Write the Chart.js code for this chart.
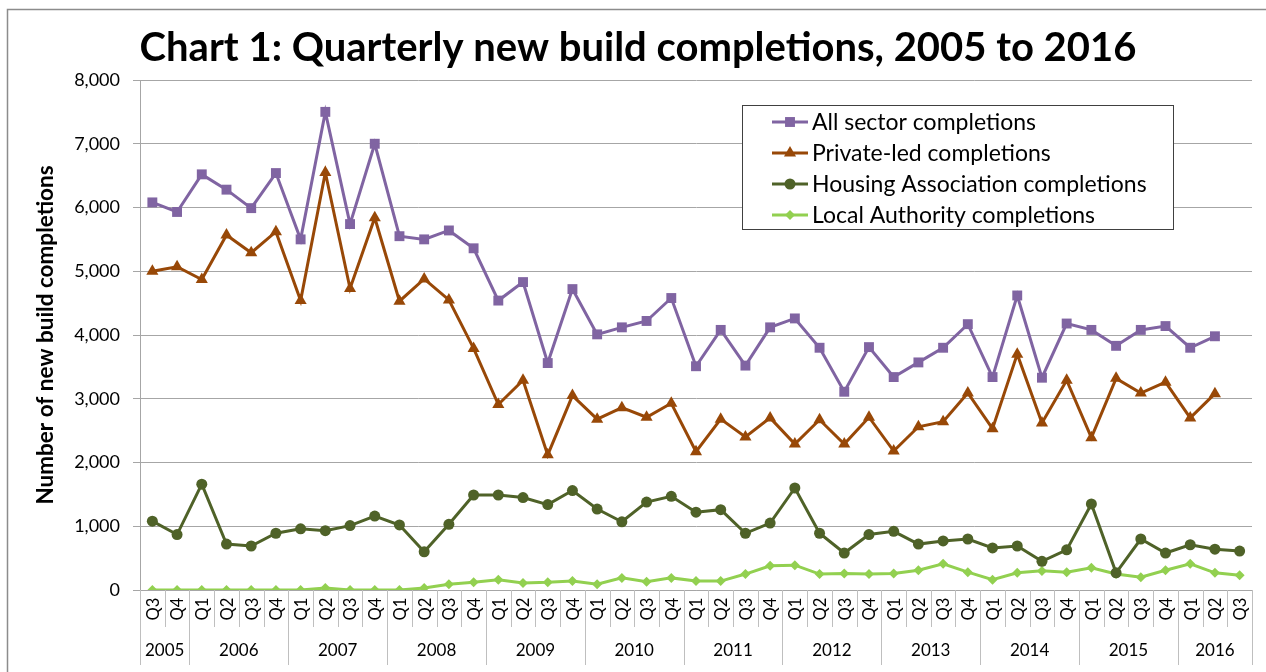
<!DOCTYPE html>
<html>
<head>
<meta charset="utf-8">
<script src="https://cdn.jsdelivr.net/npm/chart.js@4.4.1/dist/chart.umd.min.js"></script>
<style>
  html, body { margin: 0; padding: 0; background: #fff; }
  canvas { display: block; }
</style>
</head>
<body>
<canvas id="housingChart" width="1266" height="672"></canvas>
<script>
// --------------------------------
// Chart data
// --------------------------------
const quarterLabels = [
    'Q3', 'Q4',
    'Q1', 'Q2', 'Q3', 'Q4',
    'Q1', 'Q2', 'Q3', 'Q4',
    'Q1', 'Q2', 'Q3', 'Q4',
    'Q1', 'Q2', 'Q3', 'Q4',
    'Q1', 'Q2', 'Q3', 'Q4',
    'Q1', 'Q2', 'Q3', 'Q4',
    'Q1', 'Q2', 'Q3', 'Q4',
    'Q1', 'Q2', 'Q3', 'Q4',
    'Q1', 'Q2', 'Q3', 'Q4',
    'Q1', 'Q2', 'Q3', 'Q4',
    'Q1', 'Q2', 'Q3'
];
const yearLabels = ['2005', '2006', '2007', '2008', '2009', '2010', '2011', '2012', '2013', '2014', '2015', '2016'];
const quartersInYear = [2, 4, 4, 4, 4, 4, 4, 4, 4, 4, 4, 3];

const allSector = [
    6080, 5930,
    6520, 6280, 5990, 6540,
    5500, 7500, 5740, 7000,
    5550, 5500, 5640, 5360,
    4540, 4830, 3560, 4720,
    4010, 4120, 4220, 4580,
    3510, 4080, 3520, 4120,
    4260, 3800, 3110, 3810,
    3340, 3570, 3800, 4170,
    3340, 4620, 3330, 4180,
    4080, 3830, 4080, 4140,
    3800, 3980, null
];
const privateLed = [
    5000, 5070,
    4870, 5570, 5290, 5620,
    4540, 6550, 4730, 5840,
    4530, 4880, 4550, 3790,
    2910, 3290, 2120, 3050,
    2680, 2860, 2710, 2930,
    2170, 2680, 2400, 2700,
    2290, 2670, 2290, 2710,
    2180, 2560, 2640, 3090,
    2530, 3700, 2620, 3290,
    2390, 3320, 3090, 3260,
    2700, 3080, null
];
const housingAssociation = [
    1080, 870,
    1660, 720, 690, 890,
    960, 930, 1010, 1160,
    1020, 600, 1030, 1490,
    1490, 1450, 1340, 1560,
    1270, 1070, 1380, 1470,
    1220, 1260, 890, 1050,
    1600, 890, 580, 870,
    920, 720, 770, 800,
    660, 690, 450, 630,
    1350, 270, 800, 580,
    710, 640, 610
];
const localAuthority = [
    0, 0,
    0, 0, 0, 0,
    0, 30, 0, 0,
    0, 30, 90, 120,
    160, 110, 120, 140,
    90, 190, 130, 190,
    140, 140, 250, 380,
    390, 250, 260, 250,
    260, 310, 410, 280,
    160, 270, 300, 280,
    350, 250, 200, 310,
    410, 270, 230
];

const titleText = 'Chart 1: Quarterly new build completions, 2005 to 2016';
const yAxisTitle = 'Number of new build completions';

const FONT = 'Lato, "Open Sans", sans-serif';

// --------------------------------
// Marker drawing used by the legend (same geometry as Chart.js points)
// --------------------------------
function drawMarker(ctx, style, x, y, r, color) {
    ctx.fillStyle = color;
    ctx.beginPath();
    if (style === 'rect') {
        const s = r * Math.SQRT1_2;
        ctx.rect(x - s, y - s, s * 2, s * 2);
    } else if (style === 'triangle') {
        ctx.moveTo(x, y - r);
        ctx.lineTo(x + r * 0.866, y + r * 0.5);
        ctx.lineTo(x - r * 0.866, y + r * 0.5);
        ctx.closePath();
    } else if (style === 'rectRot') {
        ctx.moveTo(x, y - r);
        ctx.lineTo(x + r, y);
        ctx.lineTo(x, y + r);
        ctx.lineTo(x - r, y);
        ctx.closePath();
    } else {
        ctx.arc(x, y, r, 0, Math.PI * 2);
    }
    ctx.fill();
}

// --------------------------------
// Extra drawing: frame, title, axis title, two level x axis, legend
// --------------------------------
const decorPlugin = {
    id: 'decor',
    beforeDraw(chart) {
        const ctx = chart.ctx;
        ctx.save();
        ctx.fillStyle = '#ffffff';
        ctx.fillRect(0, 0, chart.width, chart.height);
        ctx.strokeStyle = '#8c8c8c';
        ctx.lineWidth = 1.5;
        ctx.strokeRect(7.5, 9.5, chart.width + 20, chart.height + 20);
        ctx.restore();
    },
    afterDraw(chart) {
        const ctx = chart.ctx;
        const area = chart.chartArea;
        const x = chart.scales.x;
        ctx.save();

        // Title
        ctx.fillStyle = '#000';
        ctx.font = 'bold 40px ' + FONT;
        ctx.textAlign = 'center';
        ctx.textBaseline = 'middle';
        ctx.fillText(titleText, 638, 48);

        // Y axis title
        ctx.save();
        ctx.translate(46, 335);
        ctx.rotate(-Math.PI / 2);
        ctx.font = 'bold 22.5px ' + FONT;
        ctx.fillText(yAxisTitle, 0, 0);
        ctx.restore();

        // Quarter labels and separators
        const w = x.getPixelForValue(1) - x.getPixelForValue(0);
        const rowTop = area.bottom;
        const quarterBottom = rowTop + 37;
        const yearBottom = rowTop + 75;

        ctx.font = '16.5px ' + FONT;
        quarterLabels.forEach((q, i) => {
            const cx = x.getPixelForValue(i);
            ctx.save();
            ctx.translate(cx, rowTop + 19);
            ctx.rotate(-Math.PI / 2);
            ctx.fillText(q, 0, 1);
            ctx.restore();
        });

        const yearStarts = [0];
        quartersInYear.forEach((n, k) => yearStarts.push(yearStarts[k] + n));

        ctx.strokeStyle = '#bfbfbf';
        ctx.lineWidth = 1;
        for (let i = 0; i <= quarterLabels.length; i++) {
            const b = Math.round(x.getPixelForValue(0) - w / 2 + i * w) + 0.5;
            const isYear = yearStarts.includes(i);
            ctx.beginPath();
            ctx.moveTo(b, rowTop);
            ctx.lineTo(b, isYear ? yearBottom : quarterBottom);
            ctx.stroke();
        }

        // Year labels
        ctx.font = '17px ' + FONT;
        yearLabels.forEach((yr, k) => {
            const first = x.getPixelForValue(yearStarts[k]);
            const last = x.getPixelForValue(yearStarts[k + 1] - 1);
            ctx.fillText(yr, (first + last) / 2, rowTop + 61);
        });

        // Legend
        const lx = 742, ly = 105, lw = 431, lh = 124;
        ctx.fillStyle = '#fff';
        ctx.fillRect(lx, ly, lw, lh);
        ctx.strokeStyle = '#404040';
        ctx.lineWidth = 1;
        ctx.strokeRect(lx + 0.5, ly + 0.5, lw, lh);
        ctx.font = '23px ' + FONT;
        ctx.textAlign = 'left';
        chart.data.datasets.forEach((ds, i) => {
            const yy = 122 + i * 31;
            ctx.strokeStyle = ds.borderColor;
            ctx.lineWidth = 3;
            ctx.beginPath();
            ctx.moveTo(772, yy);
            ctx.lineTo(808, yy);
            ctx.stroke();
            drawMarker(ctx, ds.pointStyle, 790, yy, ds.pointRadius, ds.borderColor);
            ctx.fillStyle = '#000';
            ctx.fillText(ds.label, 812, yy + 1);
        });

        ctx.restore();
    }
};

// --------------------------------
// Line chart definition
// --------------------------------
const ctx = document.getElementById('housingChart').getContext('2d');
const housingChart = new Chart(ctx, {
    type: 'line',
    data: {
        labels: quarterLabels,
        datasets: [
            {
                label: 'All sector completions',
                data: allSector,
                borderColor: '#8064a2',
                backgroundColor: '#8064a2',
                pointStyle: 'rect',
                pointRadius: 7
            },
            {
                label: 'Private-led completions',
                data: privateLed,
                borderColor: '#984807',
                backgroundColor: '#984807',
                pointStyle: 'triangle',
                pointRadius: 7
            },
            {
                label: 'Housing Association completions',
                data: housingAssociation,
                borderColor: '#4f6228',
                backgroundColor: '#4f6228',
                pointStyle: 'circle',
                pointRadius: 5.5
            },
            {
                label: 'Local Authority completions',
                data: localAuthority,
                borderColor: '#92d050',
                backgroundColor: '#92d050',
                pointStyle: 'rectRot',
                pointRadius: 5
            }
        ]
    },
    options: {
        responsive: false,
        animation: false,
        devicePixelRatio: 1,
        events: [],
        elements: {
            line: { borderWidth: 3, tension: 0 },
            point: { borderWidth: 0 }
        },
        layout: {
            padding: { top: 80, right: 14, bottom: 0, left: 0 }
        },
        plugins: {
            legend: { display: false },
            title: { display: false },
            tooltip: { enabled: false }
        },
        scales: {
            x: {
                offset: true,
                ticks: { display: false },
                grid: { display: false },
                border: { display: true, color: '#a6a6a6', width: 1 },
                afterFit(scale) { scale.height = 82; }
            },
            y: {
                min: 0,
                max: 8000,
                ticks: {
                    stepSize: 1000,
                    padding: 13,
                    color: '#000',
                    font: { family: FONT, size: 18 },
                    callback: (v) => v.toLocaleString('en-GB')
                },
                grid: { color: '#a6a6a6', tickLength: 7, lineWidth: 1 },
                border: { display: true, color: '#a6a6a6', width: 1 },
                afterFit(scale) { scale.width = 140; }
            }
        }
    },
    plugins: [decorPlugin]
});
</script>
</body>
</html>
